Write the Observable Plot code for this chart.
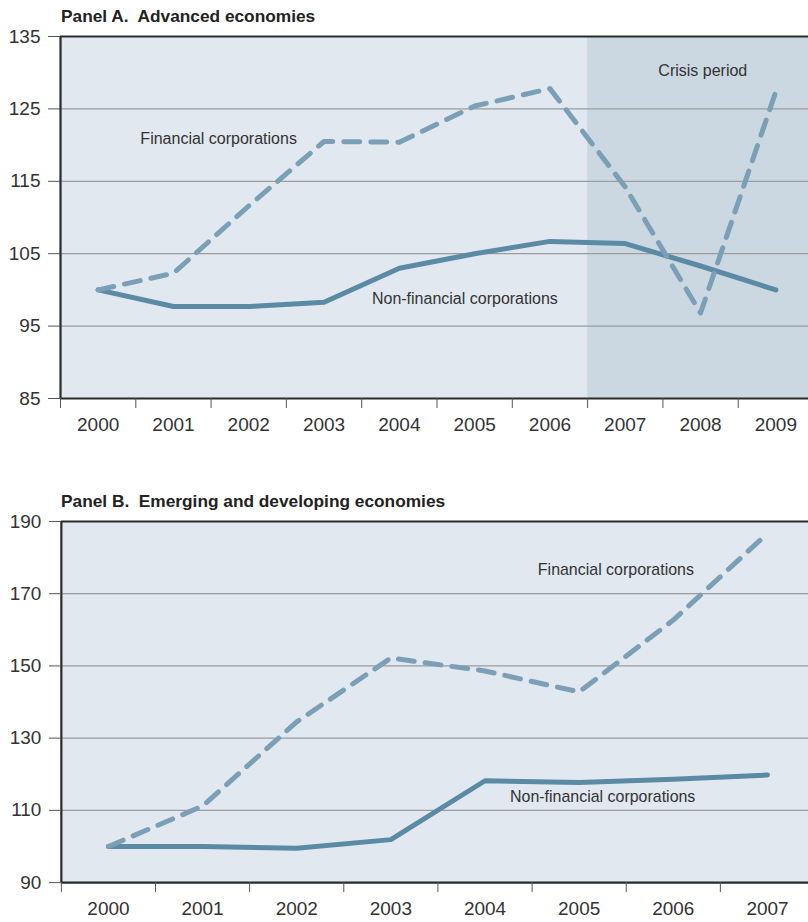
<!DOCTYPE html>
<html><head><meta charset="utf-8">
<script src="https://cdn.jsdelivr.net/npm/d3@7"></script>
<script src="https://cdn.jsdelivr.net/npm/@observablehq/plot@0.6"></script>
<style>
html,body{margin:0;padding:0;background:#fff;overflow:hidden;}
body{width:808px;height:922px;}
.title{font-family:"Liberation Sans",Arial,sans-serif;font-weight:bold;font-size:17.3px;color:#222;padding-left:61px;box-sizing:border-box;height:26px;padding-top:8px;line-height:17px;}
.spacer{height:48px;}
</style></head><body>
<div class="title">Panel A.&nbsp; Advanced economies</div>
<div id="a"></div>
<div class="spacer"></div>
<div class="title" style="height:25px;padding-top:7px;">Panel B.&nbsp; Emerging and developing economies</div>
<div id="b"></div>
<script>
// ---- Panel A data ----
const yearsA = [2000, 2001, 2002, 2003, 2004, 2005, 2006, 2007, 2008, 2009];
const financialA = [100, 102.3, 111.6, 120.5, 120.4, 125.4, 127.8, 114.2, 96.8, 127.4];
const nonFinancialA = [100, 97.7, 97.7, 98.3, 103.0, 105.0, 106.7, 106.4, 103.3, 100];
const yTicksA = [85, 95, 105, 115, 125, 135];
const crisisYears = [2007, 2009];
const labelsA = [
  {x: 2001.6, y: 120.9, text: "Financial corporations"},
  {x: 2004.87, y: 98.8, text: "Non-financial corporations"},
  {x: 2008.03, y: 130.3, text: "Crisis period"}
];

// ---- Panel B data ----
const yearsB = [2000, 2001, 2002, 2003, 2004, 2005, 2006, 2007];
const financialB = [100, 111.2, 134.5, 152.2, 148.6, 142.8, 162.7, 186.7];
const nonFinancialB = [100, 100, 99.5, 101.9, 118.2, 117.7, 118.6, 119.8];
const yTicksB = [90, 110, 130, 150, 170, 190];
const labelsB = [
  {x: 2005.39, y: 176.7, text: "Financial corporations"},
  {x: 2005.25, y: 113.8, text: "Non-financial corporations"}
];

const BG = "#e1e8f0", CRISIS = "#cbd8e1", GRID = "#9c9c9c", DARK = "#2a2a2a";
const SOLID = "#5b8aa4", DASH = "#7a9fb6";
const FONT = "'Liberation Sans', Arial, sans-serif";

function panel({years, fin, nonfin, yTicks, labels, width, marginRight, crisis}) {
  const finRows = years.map((year, i) => ({year, value: fin[i]}));
  const nonRows = years.map((year, i) => ({year, value: nonfin[i]}));
  const x0 = years[0] - 0.5, x1 = years[years.length - 1] + 0.5;
  const yMin = yTicks[0], yMax = yTicks[yTicks.length - 1];
  const edges = d3.range(years.length + 1).map(i => x0 + i);
  const marks = [
    Plot.frame({fill: BG, stroke: null})
  ];
  if (crisis) {
    marks.push(Plot.rect([crisis], {x1: d => d[0] - 0.5, x2: d => d[1] + 0.5, y1: () => yMin, y2: () => yMax, fill: CRISIS}));
  }
  marks.push(
    Plot.ruleY(yTicks.slice(1, -1), {stroke: GRID, strokeWidth: 1.2}),
    Plot.ruleY([yMin, yMax], {stroke: DARK, strokeWidth: 2.2}),
    Plot.ruleX([x0], {stroke: DARK, strokeWidth: 2.2}),
    Plot.axisY({ticks: yTicks, tickSize: 12, tickPadding: 8, fontSize: 19, label: null, tickFormat: d => String(d), stroke: "#555", color: "#333"}),
    Plot.axisX({ticks: edges, tickSize: 10, tickFormat: () => "", label: null, stroke: "#555"}),
    Plot.axisX({ticks: years, tickSize: 0, tickPadding: 19, fontSize: 19, label: null, tickFormat: d => String(d), color: "#333"}),
    Plot.line(nonRows, {x: "year", y: "value", stroke: SOLID, strokeWidth: 5, strokeLinecap: "round", strokeLinejoin: "round"}),
    Plot.line(finRows, {x: "year", y: "value", stroke: DASH, strokeWidth: 5, strokeDasharray: "16,11", strokeLinecap: "round", strokeLinejoin: "round"}),
    Plot.text(labels, {x: "x", y: "y", text: "text", fontSize: 16, fill: "#333", fontFamily: FONT})
  );
  return Plot.plot({
    width, height: 412,
    marginLeft: 60, marginRight, marginTop: 10, marginBottom: 40,
    x: {domain: [x0, x1]},
    y: {domain: [yMin, yMax]},
    style: {fontFamily: FONT, maxWidth: "none", background: "transparent", color: "#333"},
    marks
  });
}

document.getElementById("a").append(panel({
  years: yearsA, fin: financialA, nonfin: nonFinancialA, yTicks: yTicksA, labels: labelsA,
  width: 820, marginRight: 7, crisis: crisisYears
}));
const b = panel({
  years: yearsB, fin: financialB, nonfin: nonFinancialB, yTicks: yTicksB, labels: labelsB,
  width: 822, marginRight: 7, crisis: null
});
b.setAttribute("height", 411);
document.getElementById("b").append(b);
</script>
</body></html>
